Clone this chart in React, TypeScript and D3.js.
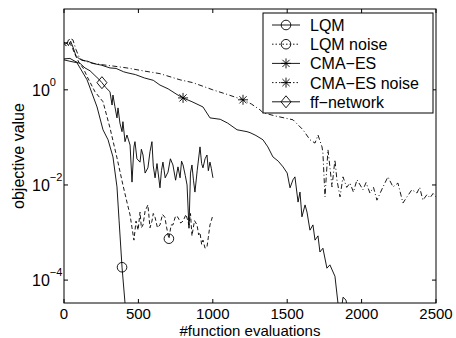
import React from "react";
import { scaleLinear, scaleLog, line } from "d3";

// x = #function evaluations, e = log10(objective value)
const lqm: [number, number][] = [
  [0, 0.63], [40, 0.6], [87, 0.57], [155, 0.21], [222, -0.36], [262, -0.84],
  [296, -1.05], [329, -1.41], [356, -2.04], [370, -2.74], [390, -3.73],
  [410, -4.48], [430, -5.2],
];

const lqmNoise: [number, number][] = [
  [0, 0.98], [15, 0.92], [30, 1.05], [45, 0.95], [60, 0.85], [80, 0.7],
  [100, 0.58], [130, 0.45], [160, 0.25], [208, -0.04], [262, -0.25],
  [309, -0.8], [356, -1.43], [396, -2.0], [423, -2.36], [444, -2.63],
  [457, -2.9], [470, -3.16], [484, -2.76], [498, -2.95], [511, -2.57],
  [520, -2.9], [531, -2.84], [545, -2.55], [564, -2.42], [578, -2.9],
  [591, -2.76], [600, -2.6], [612, -2.68], [628, -2.9], [645, -2.84],
  [662, -2.62], [678, -2.68], [690, -2.9], [705, -3.13], [720, -2.84],
  [732, -2.84], [750, -2.65], [766, -2.68], [784, -2.8], [800, -2.76],
  [820, -2.62], [840, -2.84], [850, -2.6], [860, -3.07], [877, -2.75],
  [894, -2.84], [905, -3.05], [914, -3.0], [925, -3.25], [934, -3.16],
  [948, -3.33], [961, -3.3], [970, -3.1], [981, -2.84], [990, -2.75],
  [1001, -2.63],
];

const cmaes: [number, number][] = [
  [0, 0.95], [15, 1.0], [30, 0.93], [45, 1.02], [60, 0.9], [80, 0.72],
  [100, 0.66], [121, 0.62], [160, 0.6], [200, 0.55], [250, 0.52],
  [309, 0.46], [350, 0.45], [400, 0.38], [423, 0.36], [480, 0.32],
  [540, 0.25], [600, 0.2], [645, 0.1], [700, 0.02], [760, -0.1],
  [800, -0.17], [860, -0.25], [934, -0.36], [981, -0.59], [1050, -0.62],
  [1100, -0.7], [1163, -0.84], [1230, -0.88], [1250, -0.9], [1290, -0.96],
  [1337, -1.05], [1370, -1.2], [1404, -1.41], [1440, -1.5], [1472, -1.62],
  [1500, -1.75], [1519, -2.06], [1539, -1.89], [1552, -1.83], [1573, -2.36],
  [1586, -2.15], [1599, -2.67], [1620, -2.42], [1633, -2.57], [1653, -2.95],
  [1673, -2.84], [1687, -3.16], [1707, -3.07], [1720, -3.41], [1740, -3.33],
  [1767, -3.75], [1787, -3.68], [1821, -3.92], [1841, -4.48], [1855, -4.85],
  [1875, -4.36], [1895, -4.42], [1908, -4.63],
];

const cmaesNoise: [number, number][] = [
  [0, 1.0], [20, 0.97], [40, 1.08], [60, 1.05], [80, 0.85], [100, 0.7],
  [121, 0.63], [175, 0.57], [250, 0.53], [330, 0.5], [423, 0.46],
  [530, 0.4], [645, 0.34], [780, 0.21], [867, 0.15], [1000, 0.0],
  [1100, -0.1], [1203, -0.21], [1260, -0.3], [1317, -0.42], [1337, -0.48],
  [1420, -0.55], [1539, -0.63], [1606, -0.84], [1653, -1.05], [1687, -1.12],
  [1707, -0.95], [1734, -1.2], [1740, -1.33], [1754, -2.25], [1774, -1.26],
  [1787, -1.62], [1801, -2.04], [1821, -1.47], [1834, -1.89], [1855, -2.25],
  [1875, -1.83], [1900, -2.05], [1922, -1.96], [1945, -2.15], [1969, -1.89],
  [2009, -2.1], [2030, -1.95], [2056, -2.17], [2080, -2.05], [2103, -2.32],
  [2144, -2.04], [2177, -1.83], [2211, -2.04], [2244, -1.96], [2278, -2.38],
  [2305, -2.25], [2338, -2.1], [2372, -2.17], [2390, -2.05], [2412, -2.32],
  [2440, -2.2], [2460, -2.27], [2480, -2.18], [2500, -2.25],
];

const ffNetwork: [number, number][] = [
  [0, 0.65], [40, 0.66], [74, 0.6], [110, 0.55], [141, 0.46], [175, 0.4],
  [208, 0.3], [235, 0.22], [255, 0.15], [280, 0.05], [309, -0.04],
  [323, -0.32], [329, -0.11], [342, -0.35], [356, -0.59], [363, -0.38],
  [376, -0.7], [390, -0.88], [396, -0.67], [410, -1.09], [423, -0.95],
  [444, -1.16], [457, -1.94], [470, -1.2], [477, -1.09], [490, -1.45],
  [511, -1.52], [520, -1.25], [531, -1.37], [545, -1.75], [564, -1.64],
  [578, -1.3], [591, -1.09], [600, -1.6], [612, -1.85], [625, -1.55],
  [645, -2.06], [655, -1.7], [665, -1.52], [680, -1.85], [699, -1.73],
  [715, -1.45], [732, -1.58], [750, -1.9], [766, -1.62], [780, -1.85],
  [790, -1.5], [800, -1.58], [815, -1.8], [827, -2.0], [840, -2.91],
  [850, -1.75], [860, -1.58], [870, -1.9], [880, -2.15], [895, -1.7],
  [914, -1.2], [925, -1.55], [934, -1.64], [948, -1.45], [961, -1.37],
  [970, -1.7], [981, -1.52], [990, -1.65], [1001, -1.85],
];

const legendLabels = ["LQM", "LQM noise", "CMA\u2212ES", "CMA\u2212ES noise", "ff\u2212network"];
const markerAt = [390, 705, 800, 1203, 255];
const xTicks = [0, 500, 1000, 1500, 2000, 2500];
const yTicks = [0, -2, -4];

const W = 456, H = 338;
const left = 64, right = 436, top = 9, bottom = 303;
const font = "'Liberation Sans', Arial, Helvetica, sans-serif";

const series = [
  { data: lqm, dash: "none", marker: "circle" },
  { data: lqmNoise, dash: "4,2.5", marker: "circle" },
  { data: cmaes, dash: "none", marker: "star" },
  { data: cmaesNoise, dash: "5,2.5,1,2.5", marker: "star" },
  { data: ffNetwork, dash: "none", marker: "diamond" },
];

function Marker({ kind, x, y }: { kind: string; x: number; y: number }) {
  const s = { fill: "none", stroke: "#000", strokeWidth: 0.9 };
  if (kind === "circle") return <circle cx={x} cy={y} r={4.8} {...s} />;
  if (kind === "diamond")
    return <path d={`M${x},${y - 6}L${x + 5},${y}L${x},${y + 6}L${x - 5},${y}Z`} {...s} />;
  const r = 5, d = 3.6;
  return (
    <path
      d={`M${x - r},${y}H${x + r}M${x},${y - r}V${y + r}M${x - d},${y - d}L${x + d},${y + d}M${x - d},${y + d}L${x + d},${y - d}`}
      {...s}
    />
  );
}

export default function App() {
  const xs = scaleLinear().domain([0, 2500]).range([left, right]);
  const ys = scaleLog().domain([Math.pow(10, -4.4815), Math.pow(10, 1.699)]).range([bottom, top]);
  const path = line<[number, number]>()
    .x((d) => xs(d[0]))
    .y((d) => ys(Math.pow(10, d[1])));

  return (
    <svg width={W} height={H} style={{ position: "absolute", left: 0, top: 0, background: "#fff" }} fontFamily={font}>
      <defs>
        <clipPath id="plotArea">
          <rect x={left} y={top} width={right - left} height={bottom - top} />
        </clipPath>
      </defs>

      <g clipPath="url(#plotArea)">
        {series.map((s, i) => (
          <path key={i} d={path(s.data) || ""} fill="none" stroke="#000" strokeWidth={0.9} strokeDasharray={s.dash} />
        ))}
      </g>
      {series.map((s, i) => {
        const p = s.data.find((d) => d[0] === markerAt[i])!;
        return <Marker key={i} kind={s.marker} x={xs(p[0])} y={ys(Math.pow(10, p[1]))} />;
      })}

      <rect x={left} y={top} width={right - left} height={bottom - top} fill="none" stroke="#000" strokeWidth={1} />
      {xTicks.map((t) => (
        <g key={t}>
          <line x1={xs(t)} x2={xs(t)} y1={bottom} y2={bottom - 4} stroke="#000" />
          <line x1={xs(t)} x2={xs(t)} y1={top} y2={top + 4} stroke="#000" />
          <text x={xs(t)} y={319} textAnchor="middle" fontSize={15}>{t}</text>
        </g>
      ))}
      {yTicks.map((t) => {
        const y = ys(Math.pow(10, t));
        return (
          <g key={t}>
            <line x1={left} x2={left + 4} y1={y} y2={y} stroke="#000" />
            <line x1={right} x2={right - 4} y1={y} y2={y} stroke="#000" />
            <text x={32} y={y + 6} fontSize={16}>
              10<tspan dy={-10} fontSize={11}>{t === 0 ? "0" : "\u2212" + Math.abs(t)}</tspan>
            </text>
          </g>
        );
      })}

      <text x={(left + right) / 2} y={335.5} textAnchor="middle" fontSize={15}>#function evaluations</text>
      <text transform={`translate(24,${(top + bottom) / 2}) rotate(-90)`} textAnchor="middle" fontSize={16}>objective value</text>

      <g>
        <rect x={263} y={13} width={170} height={100} fill="#fff" stroke="#000" strokeWidth={1} />
        {series.map((s, i) => {
          const y = 25 + i * 19.2;
          return (
            <g key={i}>
              <line x1={272} x2={300} y1={y} y2={y} stroke="#000" strokeWidth={0.9} strokeDasharray={s.dash === "none" ? undefined : "1.5,2"} />
              <Marker kind={s.marker} x={286} y={y} />
              <text x={310} y={y + 6} fontSize={16}>{legendLabels[i]}</text>
            </g>
          );
        })}
      </g>
    </svg>
  );
}
